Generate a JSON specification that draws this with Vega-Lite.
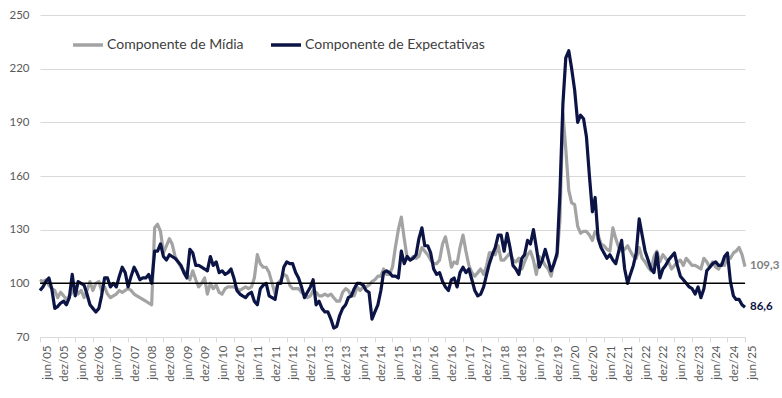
{
"$schema":"https://vega.github.io/schema/vega-lite/v6.json",
"width":705,"height":322,
"autosize":{"type":"none"},
"padding":{"left":40,"top":15,"right":37,"bottom":61},
"data":{"format":{"parse":{"d":"utc:'%Y-%m'"}},"values":[
{"d":"2005-06","m":102,"e":96},{"d":"2005-07","m":101,"e":98},{"d":"2005-08","m":102,"e":101},{"d":"2005-09","m":99,"e":103},{"d":"2005-10","m":97,"e":97},{"d":"2005-11","m":96,"e":86},{"d":"2005-12","m":92,"e":87},
{"d":"2006-01","m":95,"e":89},{"d":"2006-02","m":93,"e":90},{"d":"2006-03","m":91,"e":88},{"d":"2006-04","m":93,"e":92},{"d":"2006-05","m":95,"e":105},{"d":"2006-06","m":98,"e":93},{"d":"2006-07","m":94,"e":101},{"d":"2006-08","m":96,"e":100},{"d":"2006-09","m":92,"e":99},{"d":"2006-10","m":96,"e":94},{"d":"2006-11","m":101,"e":88},{"d":"2006-12","m":96,"e":86},
{"d":"2007-01","m":100,"e":84},{"d":"2007-02","m":101,"e":86},{"d":"2007-03","m":96,"e":93},{"d":"2007-04","m":98,"e":103},{"d":"2007-05","m":94,"e":103},{"d":"2007-06","m":92,"e":98},{"d":"2007-07","m":93,"e":100},{"d":"2007-08","m":94,"e":98},{"d":"2007-09","m":96,"e":104},{"d":"2007-10","m":95,"e":109},{"d":"2007-11","m":96,"e":106},{"d":"2007-12","m":97,"e":98},
{"d":"2008-01","m":96,"e":104},{"d":"2008-02","m":94,"e":109},{"d":"2008-03","m":93,"e":106},{"d":"2008-04","m":92,"e":102},{"d":"2008-05","m":91,"e":103},{"d":"2008-06","m":90,"e":103},{"d":"2008-07","m":89,"e":105},{"d":"2008-08","m":88,"e":100},{"d":"2008-09","m":131,"e":118},{"d":"2008-10","m":133,"e":118},{"d":"2008-11","m":129,"e":122},{"d":"2008-12","m":117,"e":115},
{"d":"2009-01","m":121,"e":113},{"d":"2009-02","m":125,"e":116},{"d":"2009-03","m":122,"e":115},{"d":"2009-04","m":115,"e":114},{"d":"2009-05","m":112,"e":112},{"d":"2009-06","m":109,"e":110},{"d":"2009-07","m":107,"e":106},{"d":"2009-08","m":105,"e":103},{"d":"2009-09","m":102,"e":119},{"d":"2009-10","m":107,"e":117},{"d":"2009-11","m":102,"e":110},{"d":"2009-12","m":98,"e":110},
{"d":"2010-01","m":100,"e":109},{"d":"2010-02","m":103,"e":108},{"d":"2010-03","m":94,"e":107},{"d":"2010-04","m":100,"e":115},{"d":"2010-05","m":97,"e":110},{"d":"2010-06","m":99,"e":112},{"d":"2010-07","m":95,"e":106},{"d":"2010-08","m":94,"e":107},{"d":"2010-09","m":97,"e":105},{"d":"2010-10","m":98,"e":106},{"d":"2010-11","m":98,"e":108},{"d":"2010-12","m":98,"e":103},
{"d":"2011-01","m":97,"e":96},{"d":"2011-02","m":96,"e":94},{"d":"2011-03","m":97,"e":93},{"d":"2011-04","m":98,"e":92},{"d":"2011-05","m":97,"e":94},{"d":"2011-06","m":98,"e":95},{"d":"2011-07","m":103,"e":90},{"d":"2011-08","m":116,"e":88},{"d":"2011-09","m":111,"e":97},{"d":"2011-10","m":109,"e":99},{"d":"2011-11","m":109,"e":100},{"d":"2011-12","m":106,"e":93},
{"d":"2012-01","m":100,"e":92},{"d":"2012-02","m":94,"e":91},{"d":"2012-03","m":100,"e":100},{"d":"2012-04","m":102,"e":100},{"d":"2012-05","m":105,"e":109},{"d":"2012-06","m":104,"e":112},{"d":"2012-07","m":99,"e":111},{"d":"2012-08","m":97,"e":111},{"d":"2012-09","m":97,"e":106},{"d":"2012-10","m":97,"e":103},{"d":"2012-11","m":95,"e":98},{"d":"2012-12","m":94,"e":92},
{"d":"2013-01","m":92,"e":95},{"d":"2013-02","m":93,"e":98},{"d":"2013-03","m":96,"e":102},{"d":"2013-04","m":95,"e":88},{"d":"2013-05","m":93,"e":90},{"d":"2013-06","m":93,"e":86},{"d":"2013-07","m":94,"e":84},{"d":"2013-08","m":93,"e":84},{"d":"2013-09","m":94,"e":80},{"d":"2013-10","m":92,"e":75},{"d":"2013-11","m":90,"e":76},{"d":"2013-12","m":90,"e":82},
{"d":"2014-01","m":95,"e":86},{"d":"2014-02","m":97,"e":88},{"d":"2014-03","m":96,"e":92},{"d":"2014-04","m":93,"e":93},{"d":"2014-05","m":93,"e":97},{"d":"2014-06","m":98,"e":100},{"d":"2014-07","m":96,"e":100},{"d":"2014-08","m":98,"e":99},{"d":"2014-09","m":98,"e":96},{"d":"2014-10","m":99,"e":95},{"d":"2014-11","m":101,"e":80},{"d":"2014-12","m":102,"e":84},
{"d":"2015-01","m":104,"e":88},{"d":"2015-02","m":104,"e":96},{"d":"2015-03","m":108,"e":106},{"d":"2015-04","m":105,"e":107},{"d":"2015-05","m":105,"e":106},{"d":"2015-06","m":109,"e":104},{"d":"2015-07","m":120,"e":104},{"d":"2015-08","m":130,"e":103},{"d":"2015-09","m":137,"e":118},{"d":"2015-10","m":125,"e":111},{"d":"2015-11","m":114,"e":115},{"d":"2015-12","m":113,"e":113},
{"d":"2016-01","m":115,"e":114},{"d":"2016-02","m":114,"e":116},{"d":"2016-03","m":115,"e":125},{"d":"2016-04","m":120,"e":131},{"d":"2016-05","m":118,"e":121},{"d":"2016-06","m":116,"e":121},{"d":"2016-07","m":113,"e":117},{"d":"2016-08","m":111,"e":108},{"d":"2016-09","m":111,"e":105},{"d":"2016-10","m":113,"e":106},{"d":"2016-11","m":122,"e":101},{"d":"2016-12","m":126,"e":98},
{"d":"2017-01","m":118,"e":96},{"d":"2017-02","m":109,"e":102},{"d":"2017-03","m":112,"e":103},{"d":"2017-04","m":111,"e":98},{"d":"2017-05","m":120,"e":106},{"d":"2017-06","m":127,"e":109},{"d":"2017-07","m":118,"e":106},{"d":"2017-08","m":110,"e":108},{"d":"2017-09","m":106,"e":102},{"d":"2017-10","m":104,"e":96},{"d":"2017-11","m":106,"e":93},{"d":"2017-12","m":108,"e":94},
{"d":"2018-01","m":105,"e":98},{"d":"2018-02","m":110,"e":105},{"d":"2018-03","m":117,"e":111},{"d":"2018-04","m":117,"e":116},{"d":"2018-05","m":116,"e":120},{"d":"2018-06","m":121,"e":127},{"d":"2018-07","m":113,"e":127},{"d":"2018-08","m":113,"e":118},{"d":"2018-09","m":115,"e":128},{"d":"2018-10","m":117,"e":120},{"d":"2018-11","m":113,"e":110},{"d":"2018-12","m":112,"e":108},
{"d":"2019-01","m":114,"e":105},{"d":"2019-02","m":108,"e":114},{"d":"2019-03","m":112,"e":116},{"d":"2019-04","m":116,"e":124},{"d":"2019-05","m":118,"e":122},{"d":"2019-06","m":113,"e":130},{"d":"2019-07","m":105,"e":120},{"d":"2019-08","m":115,"e":109},{"d":"2019-09","m":113,"e":113},{"d":"2019-10","m":110,"e":119},{"d":"2019-11","m":108,"e":113},{"d":"2019-12","m":104,"e":107},
{"d":"2020-01","m":112,"e":111},{"d":"2020-02","m":115,"e":117},{"d":"2020-03","m":135,"e":150},{"d":"2020-04","m":195,"e":200},{"d":"2020-05","m":175,"e":226},{"d":"2020-06","m":152,"e":230},{"d":"2020-07","m":145,"e":220},{"d":"2020-08","m":144,"e":208},{"d":"2020-09","m":132,"e":190},{"d":"2020-10","m":128,"e":194},{"d":"2020-11","m":129,"e":192},{"d":"2020-12","m":129,"e":182},
{"d":"2021-01","m":127,"e":160},{"d":"2021-02","m":124,"e":140},{"d":"2021-03","m":129,"e":148},{"d":"2021-04","m":127,"e":125},{"d":"2021-05","m":122,"e":120},{"d":"2021-06","m":121,"e":117},{"d":"2021-07","m":119,"e":114},{"d":"2021-08","m":118,"e":116},{"d":"2021-09","m":131,"e":113},{"d":"2021-10","m":125,"e":111},{"d":"2021-11","m":120,"e":118},{"d":"2021-12","m":118,"e":124},
{"d":"2022-01","m":119,"e":108},{"d":"2022-02","m":121,"e":100},{"d":"2022-03","m":118,"e":105},{"d":"2022-04","m":115,"e":110},{"d":"2022-05","m":114,"e":117},{"d":"2022-06","m":120,"e":136},{"d":"2022-07","m":114,"e":127},{"d":"2022-08","m":112,"e":118},{"d":"2022-09","m":109,"e":113},{"d":"2022-10","m":107,"e":108},{"d":"2022-11","m":115,"e":106},{"d":"2022-12","m":118,"e":117},
{"d":"2023-01","m":112,"e":103},{"d":"2023-02","m":116,"e":108},{"d":"2023-03","m":114,"e":110},{"d":"2023-04","m":112,"e":113},{"d":"2023-05","m":108,"e":115},{"d":"2023-06","m":110,"e":117},{"d":"2023-07","m":112,"e":110},{"d":"2023-08","m":113,"e":104},{"d":"2023-09","m":110,"e":102},{"d":"2023-10","m":114,"e":100},{"d":"2023-11","m":112,"e":98},{"d":"2023-12","m":110,"e":97},
{"d":"2024-01","m":110,"e":94},{"d":"2024-02","m":109,"e":98},{"d":"2024-03","m":108,"e":92},{"d":"2024-04","m":114,"e":97},{"d":"2024-05","m":112,"e":107},{"d":"2024-06","m":109,"e":109},{"d":"2024-07","m":112,"e":111},{"d":"2024-08","m":109,"e":112},{"d":"2024-09","m":108,"e":110},{"d":"2024-10","m":111,"e":110},{"d":"2024-11","m":110,"e":115},{"d":"2024-12","m":115,"e":117},
{"d":"2025-01","m":114,"e":101},{"d":"2025-02","m":117,"e":93},{"d":"2025-03","m":118,"e":91},{"d":"2025-04","m":120,"e":91},{"d":"2025-05","m":116,"e":88},{"d":"2025-06","m":109.3,"e":86.6}
]},
"layer":[
{"transform":[{"fold":["m","e"],"as":["s","v"]}],
 "mark":{"type":"line","strokeWidth":3.2,"strokeJoin":"round"},
 "encoding":{
  "x":{"field":"d","type":"temporal","title":null,"scale":{"type":"utc","nice":false},
   "axis":{"tickCount":100,"values":[{"year":2005,"month":6,"utc":true},{"year":2005,"month":12,"utc":true},{"year":2006,"month":6,"utc":true},{"year":2006,"month":12,"utc":true},{"year":2007,"month":6,"utc":true},{"year":2007,"month":12,"utc":true},{"year":2008,"month":6,"utc":true},{"year":2008,"month":12,"utc":true},{"year":2009,"month":6,"utc":true},{"year":2009,"month":12,"utc":true},{"year":2010,"month":6,"utc":true},{"year":2010,"month":12,"utc":true},{"year":2011,"month":6,"utc":true},{"year":2011,"month":12,"utc":true},{"year":2012,"month":6,"utc":true},{"year":2012,"month":12,"utc":true},{"year":2013,"month":6,"utc":true},{"year":2013,"month":12,"utc":true},{"year":2014,"month":6,"utc":true},{"year":2014,"month":12,"utc":true},{"year":2015,"month":6,"utc":true},{"year":2015,"month":12,"utc":true},{"year":2016,"month":6,"utc":true},{"year":2016,"month":12,"utc":true},{"year":2017,"month":6,"utc":true},{"year":2017,"month":12,"utc":true},{"year":2018,"month":6,"utc":true},{"year":2018,"month":12,"utc":true},{"year":2019,"month":6,"utc":true},{"year":2019,"month":12,"utc":true},{"year":2020,"month":6,"utc":true},{"year":2020,"month":12,"utc":true},{"year":2021,"month":6,"utc":true},{"year":2021,"month":12,"utc":true},{"year":2022,"month":6,"utc":true},{"year":2022,"month":12,"utc":true},{"year":2023,"month":6,"utc":true},{"year":2023,"month":12,"utc":true},{"year":2024,"month":6,"utc":true},{"year":2024,"month":12,"utc":true},{"year":2025,"month":6,"utc":true}],
    "labelExpr":"(utcmonth(datum.value)==5?'jun/':'dez/')+utcFormat(datum.value,'%y')",
    "labelAngle":-90,"labelFontSize":11.5,"labelColor":"#595959","labelPadding":3,"labelOffset":7,"labelOverlap":false,"labelFlush":false,"labelBound":false,
    "grid":false,"domainColor":"#D9D9D9","tickColor":"#D9D9D9","tickSize":5}},
  "y":{"field":"v","type":"quantitative","title":null,"scale":{"domain":[70,250],"nice":false,"zero":false},
   "axis":{"values":[70,100,130,160,190,220,250],"grid":true,"gridColor":"#D9D9D9","gridWidth":1,"domain":false,"ticks":false,"labelFontSize":11.5,"labelColor":"#595959","labelPadding":11}},
  "color":{"field":"s","type":"nominal","scale":{"domain":["m","e"],"range":["#A3A3A3","#0B1445"]},
   "legend":{"orient":"none","legendX":31,"legendY":13,"direction":"horizontal","title":null,"symbolType":"stroke","symbolSize":900,"symbolStrokeWidth":3.5,"labelFontSize":14,"labelColor":"#404040","labelOffset":2,"columnPadding":20,"labelLimit":0,
    "labelExpr":"datum.value=='m'?'Componente de Mídia':'Componente de Expectativas'"}}
 }},
{"data":{"values":[{}]},"mark":{"type":"rule","color":"#000000","strokeWidth":1.5},"encoding":{"y":{"datum":100}}},
{"transform":[{"fold":["m","e"],"as":["s","v"]},{"filter":"datum.s=='m' && utcyear(datum.d)==2025 && utcmonth(datum.d)==5"}],
 "mark":{"type":"text","align":"left","baseline":"middle","dx":5,"dy":-1,"fontSize":11.5,"fontWeight":"bold","color":"#808080"},
 "encoding":{"x":{"field":"d","type":"temporal","title":null},"y":{"field":"v","type":"quantitative","title":null},"text":{"field":"v","type":"quantitative","format":".1f"}}},
{"transform":[{"fold":["m","e"],"as":["s","v"]},{"filter":"datum.s=='e' && utcyear(datum.d)==2025 && utcmonth(datum.d)==5"}],
 "mark":{"type":"text","align":"left","baseline":"middle","dx":5,"fontSize":11.5,"fontWeight":"bold","color":"#0B1445"},
 "encoding":{"x":{"field":"d","type":"temporal","title":null},"y":{"field":"v","type":"quantitative","title":null},"text":{"field":"v","type":"quantitative","format":".1f"}}}
],
"config":{"font":"Lato","view":{"stroke":null},
 "axisX":{"labelOverlap":false},
 "locale":{"number":{"decimal":",","thousands":".","grouping":[3],"currency":["R$",""]}}}
}
